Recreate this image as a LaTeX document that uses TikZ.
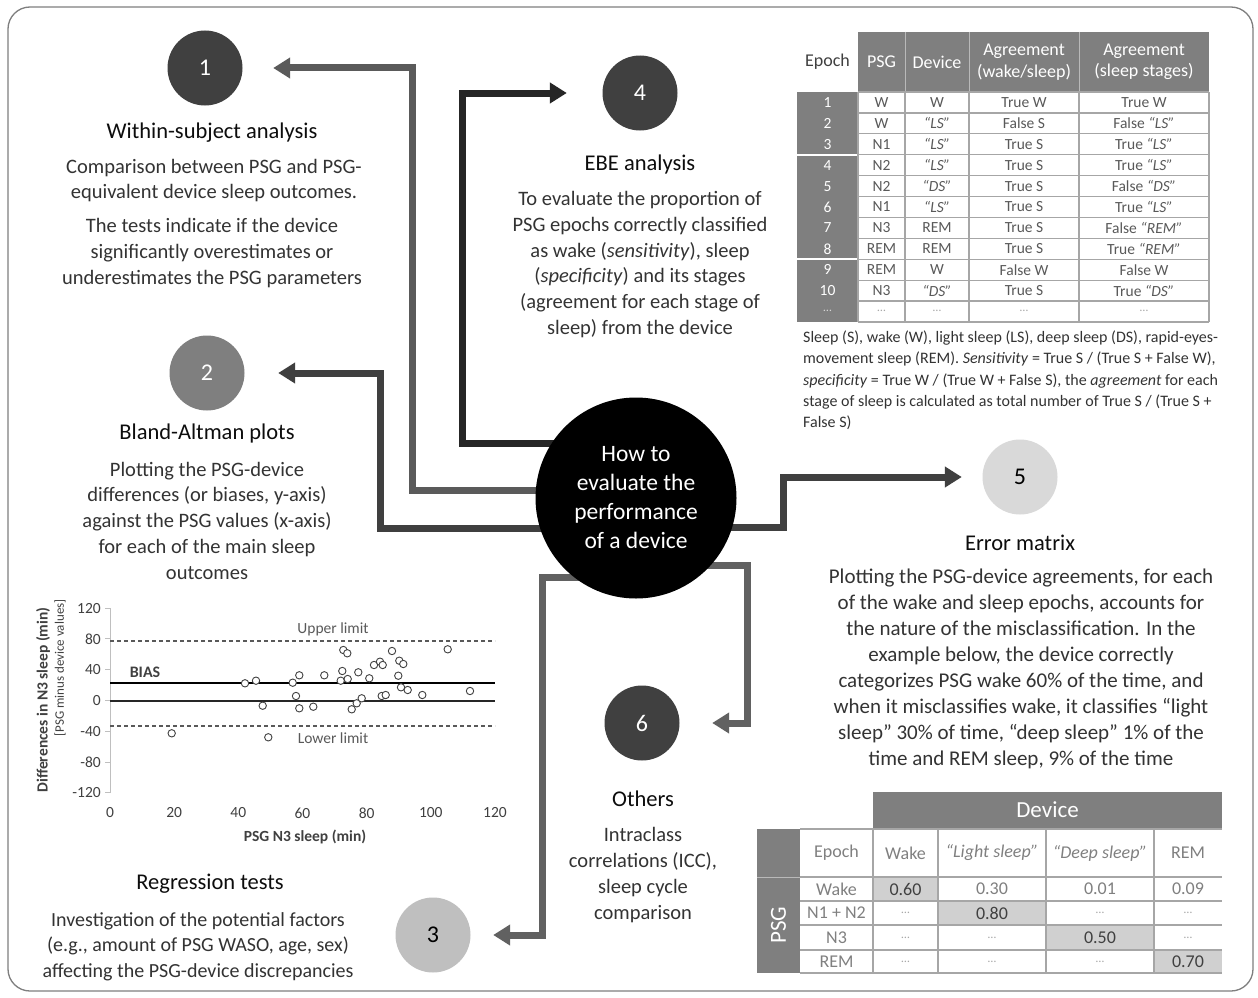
\documentclass[tikz,border=0pt]{standalone}
\usepackage{fontspec}
\setmainfont{Carlito}
\usetikzlibrary{arrows.meta,backgrounds}
\newcommand\setfs[2]{\fontsize{#1}{#2}\selectfont}
\newcommand\qq[1]{{\itshape “#1”}}
\definecolor{dk}{HTML}{404040}
\definecolor{md}{HTML}{7F7F7F}
\definecolor{lt}{HTML}{BFBFBF}
\definecolor{vlt}{HTML}{D9D9D9}
\definecolor{txt}{HTML}{333333}
\definecolor{cell}{HTML}{595959}
\definecolor{soft}{HTML}{808080}
\definecolor{gridc}{HTML}{A6A6A6}
\definecolor{hi}{HTML}{D0D0D0}
\definecolor{cA}{HTML}{5A5A5A}
\definecolor{cB}{HTML}{3F3F3F}
\definecolor{cC}{HTML}{262626}
\definecolor{cD}{HTML}{616161}
\begin{document}
\begin{tikzpicture}[x=1pt,y=-1pt,
  num/.style={circle, minimum size=75pt, inner sep=0pt, font=\setfs{24}{28}},
  ttl/.style={font=\setfs{22.5}{27}, text=black!95, inner sep=0pt},
  bdy/.style={font=\setfs{20.5}{25.8}, align=center, text=txt, inner sep=0pt},
  conn/.style={line width=7pt, -{Triangle[length=17pt,width=20pt]}},
  th/.style={font=\setfs{18}{21.5}, align=center, inner sep=0pt},
  tc/.style={font=\setfs{15.5}{18}, text=cell, inner sep=0pt},
  te/.style={font=\setfs{12}{14}, text=gridc, inner sep=0pt},
  mc/.style={font=\setfs{18}{21}, text=soft, inner sep=0pt},
  mh/.style={font=\setfs{18}{21}, text=dk, inner sep=0pt},
  tick/.style={font=\setfs{15.5}{18}, text=dk, inner sep=0pt},
  gline/.style={gridc, line width=1.2pt}
]
\useasboundingbox (0,0) rectangle (1258,998);

% ---------- circles ----------
\node[num, fill=dk, text=white] (n1) at (205,68) {1};
\node[num, fill=md, text=white] (n2) at (207,373) {2};
\node[num, fill=lt, text=black] (n3) at (433,935) {3};
\node[num, fill=dk, text=white] (n4) at (640,93) {4};
\node[num, fill=vlt, text=black] (n5) at (1020,477) {5};
\node[num, fill=dk, text=white] (n6) at (642,723) {6};
\node[circle, fill=black, minimum size=201pt, inner sep=0pt, text=white, align=center,
      font=\setfs{23.5}{29}] (c) at (636,498) {How to\\evaluate the\\performance\\of a device};

% ---------- titles and texts ----------
\node[ttl] (t1) at (212,133) {Within-subject analysis};
\node[bdy] (p1a) at (214,180.5) {Comparison between PSG and PSG-\\equivalent device sleep outcomes.};
\node[bdy] (p1b) at (212,253) {The tests indicate if the device\\significantly overestimates or\\underestimates the PSG parameters};

\node[ttl] (t2) at (207,433) {Bland-Altman plots};
\node[bdy] (p2) at (207,520.6) {Plotting the PSG-device\\differences (or biases, y-axis)\\against the PSG values (x-axis)\\for each of the main sleep\\outcomes};

\node[ttl] (t4) at (640,165) {EBE analysis};
\node[bdy] (p4) at (640,264.5) {To evaluate the proportion of\\PSG epochs correctly classified\\as wake (\textit{sensitivity}), sleep\\(\textit{specificity}) and its stages\\(agreement for each stage of\\sleep) from the device};

\node[ttl] (t5) at (1020,543) {Error matrix};
\node[bdy, font=\setfs{21}{26}] (p5) at (1021,669) {Plotting the PSG-device agreements, for each\\of the wake and sleep epochs, accounts for\\the nature of the misclassification. In the\\example below, the device correctly\\categorizes PSG wake 60\% of the time, and\\when it misclassifies wake, it classifies “light\\sleep” 30\% of time, “deep sleep” 1\% of the\\time and REM sleep, 9\% of the time};

\node[ttl] (t6) at (643,799) {Others};
\node[bdy] (p6) at (643,875) {Intraclass\\correlations (ICC),\\sleep cycle\\comparison};

\node[ttl] (t3) at (210,884) {Regression tests};
\node[bdy, font=\setfs{20}{25.5}] (p3) at (198,946.5) {Investigation of the potential factors\\(e.g., amount of PSG WASO, age, sex)\\affecting the PSG-device discrepancies};

% ---------- table 1 ----------
\fill[md] (858,32) rectangle (1209,92);
\foreach \x in {905,969,1079} \draw[white!45!md, line width=1pt] (\x,32) -- (\x,92);
\node[th, text=dk] (h1) at (827.5,62) {Epoch};
\node[th, text=white] (h2) at (881.5,62) {PSG};
\node[th, text=white] (h3) at (937,62) {Device};
\node[th, text=white] (h4) at (1024,62) {Agreement\\(wake/sleep)};
\node[th, text=white] (h5) at (1144,62) {Agreement\\(sleep stages)};
\fill[md] (797,92) rectangle (858,322);
\draw[white, line width=1.5pt] (797,155) -- (858,155) (797,259) -- (858,259);
\foreach \k in {0,...,11} \draw[gline] (858,{92+\k*20.909}) -- (1209,{92+\k*20.909});
\foreach \x in {858,905,969,1079,1209} \draw[gline] (\x,92) -- (\x,322);
\foreach [count=\i] \a/\b/\cc/\d/\e in {
 1/W/W/True W/True W,
 2/W/\qq{LS}/False S/False \qq{LS},
 3/N1/\qq{LS}/True S/True \qq{LS},
 4/N2/\qq{LS}/True S/True \qq{LS},
 5/N2/\qq{DS}/True S/False \qq{DS},
 6/N1/\qq{LS}/True S/True \qq{LS},
 7/N3/REM/True S/False \qq{REM},
 8/REM/REM/True S/True \qq{REM},
 9/REM/W/False W/False W,
 10/N3/\qq{DS}/True S/True \qq{DS}}
{
 \pgfmathsetmacro\yy{92+(\i-0.5)*20.909}
 \node[tc, text=white] (ea\i) at (827.5,\yy) {\a};
 \node[tc] (eb\i) at (881.5,\yy) {\b};
 \node[tc] (ec\i) at (937,\yy) {\cc};
 \node[tc] (ed\i) at (1024,\yy) {\d};
 \node[tc] (ee\i) at (1144,\yy) {\e};
}
\node[te, text=white!70!md] (ea11) at (827.5,311) {…};
\foreach \x/\nm in {881.5/b,937/c,1024/d,1144/e} \node[te] (e\nm11) at (\x,311) {…};

\node[font=\setfs{16}{21.3}, text=txt, align=left, anchor=west, inner sep=0pt] (cap) at (803,380.5)
 {Sleep (S), wake (W), light sleep (LS), deep sleep (DS), rapid-eyes-\\movement sleep (REM). \textit{Sensitivity} = True S / (True S + False W),\\\textit{specificity} = True W / (True W + False S), the \textit{agreement} for each\\stage of sleep is calculated as total number of True S / (True S +\\False S)};

% ---------- table 2 ----------
\fill[md] (873,792) rectangle (1222,829);
\node[font=\setfs{23}{26}, text=white, inner sep=0pt] (dev) at (1047.5,810) {Device};
\fill[md] (757,829) rectangle (800,973);
\draw[white!45!md, line width=1pt] (757,877) -- (800,877);
\node[font=\setfs{23}{26}, text=white, rotate=90, inner sep=0pt] (psg) at (778.5,925) {PSG};
\fill[hi] (873,877) rectangle (938,901);
\fill[hi] (938,901) rectangle (1046,925);
\fill[hi] (1046,925) rectangle (1154,950);
\fill[hi] (1154,950) rectangle (1222,973);
\foreach \y in {829,877,901,925,950,973} \draw[gline] (800,\y) -- (1222,\y);
\foreach \x in {873,938,1046,1154} \draw[gline] (\x,829) -- (\x,973);
\node[mc] (mh1) at (836.5,853) {Epoch};
\node[mc] (mh2) at (905.5,853) {Wake};
\node[mc] (mh3) at (992,853) {\qq{Light sleep}};
\node[mc] (mh4) at (1100,853) {\qq{Deep sleep}};
\node[mc] (mh5) at (1188,853) {REM};
\node[mc] (ml1) at (836.5,889) {Wake};
\node[mc] (ml2) at (836.5,913) {N1 + N2};
\node[mc] (ml3) at (836.5,937.5) {N3};
\node[mc] (ml4) at (836.5,961.5) {REM};
\node[mh] (v11) at (905.5,889) {0.60};
\node[mc] (v12) at (992,889) {0.30};
\node[mc] (v13) at (1100,889) {0.01};
\node[mc] (v14) at (1188,889) {0.09};
\node[te] (v21) at (905.5,913) {…};
\node[mh] (v22) at (992,913) {0.80};
\node[te] (v23) at (1100,913) {…};
\node[te] (v24) at (1188,913) {…};
\node[te] (v31) at (905.5,937.5) {…};
\node[te] (v32) at (992,937.5) {…};
\node[mh] (v33) at (1100,937.5) {0.50};
\node[te] (v34) at (1188,937.5) {…};
\node[te] (v41) at (905.5,961.5) {…};
\node[te] (v42) at (992,961.5) {…};
\node[te] (v43) at (1100,961.5) {…};
\node[mh] (v44) at (1188,961.5) {0.70};

% ---------- Bland-Altman plot ----------
\draw[lt, line width=1pt] (110,608) -- (110,793);
\foreach \v in {120,80,40,0,-40,-80,-120} {
  \draw[lt, line width=1pt] (105,{700.5-\v*0.77}) -- (110,{700.5-\v*0.77});
  \node[tick, anchor=east] (yl\v) at (101,{700.5-\v*0.77}) {\v};
}
\foreach \v in {0,20,40,60,80,100,120}
  \node[tick] (xl\v) at ({110+\v*3.208},813) {\v};
\draw[cell, line width=1.2pt, dash pattern=on 4pt off 3pt] (110,641) -- (495,641);
\draw[cell, line width=1.2pt, dash pattern=on 4pt off 3pt] (110,726) -- (495,726);
\draw[black, line width=1.8pt] (110,683) -- (495,683);
\draw[black!85, line width=1.4pt] (110,701) -- (495,701);
\node[tick, text=cell] (ul) at (333,629) {Upper limit};
\node[tick, text=cell] (ll) at (333,738) {Lower limit};
\node[font=\bfseries\setfs{16}{18}, text=dk, inner sep=0pt] (bias) at (145,672) {BIAS};
\node[font=\bfseries\setfs{15.5}{18}, text=dk, rotate=90, inner sep=0pt] (yt) at (43,700) {Differences in N3 sleep (min)};
\node[font=\setfs{13}{15}, text=dk, rotate=90, inner sep=0pt] (yt2) at (60,668) {[PSG minus device values]};
\node[font=\bfseries\setfs{15.5}{18}, text=dk, inner sep=0pt] (xt) at (305,837) {PSG N3 sleep (min)};
\foreach \px/\py in {171.7/733.3, 245/683.3, 256/680.7, 262.7/705.7, 268.3/737.3, 292.7/682.7,
  296/696, 299.3/675.3, 299.3/708.3, 313.3/706.7, 324.3/675.3, 340.7/680.7, 342.3/671,
  343.3/650, 347.3/653.3, 347.7/679, 351.7/709.3, 356.7/703.3, 358.3/672.3, 361.7/698.3,
  369.3/678.3, 374/665, 380/661.7, 381.7/696, 382.7/665, 385.7/695, 392/651, 398.3/675.7,
  399.3/660.7, 401/687.3, 403.3/664, 407.7/690, 422.3/695, 447.7/649.3, 470/691}
  \draw[dk, line width=0.9pt, fill=white] (\px,\py) circle[radius=3.7pt];

% ---------- frame and connectors ----------
\begin{scope}[on background layer]
\fill[white] (0,0) rectangle (1258,998);
\draw[md, line width=1.3pt, fill=white, rounded corners=22pt] (8,7) rectangle (1253,991);
\draw[conn, cA] ([yshift=8pt]c.center) -| ([xshift=169.5pt]n1.east) -- ([xshift=30.5pt]n1.east);
\draw[conn, cB] ([yshift=-30pt]c.center) -| ([xshift=135.5pt]n2.east) -- ([xshift=33.5pt]n2.east);
\draw[conn, cC] ([yshift=55pt]c.center) -| ([xshift=-139.5pt]n4.west) -- ([xshift=-35.5pt]n4.west);
\draw[conn, dk] ([yshift=-29pt]c.center) -| ([xshift=-198.5pt]n5.west) -- ([xshift=-20.5pt]n5.west);
\draw[conn, cD] ([yshift=-67pt]c.center) -| ([xshift=67.5pt]n6.east) -- ([xshift=32.5pt]n6.east);
\draw[conn, cD] ([yshift=-79pt]c.center) -| ([xshift=71.5pt]n3.east) -- ([xshift=22.5pt]n3.east);
\end{scope}
\end{tikzpicture}
\end{document}
